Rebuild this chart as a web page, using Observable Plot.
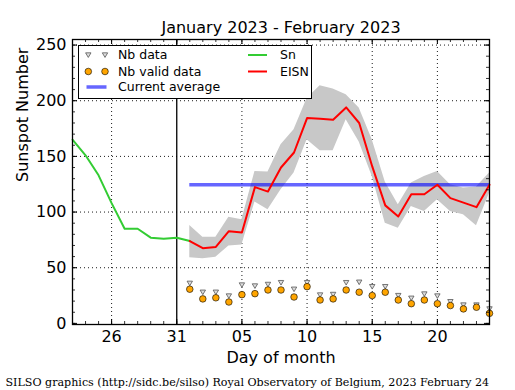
<!DOCTYPE html>
<html><head><meta charset="utf-8">
<script src="https://cdn.jsdelivr.net/npm/d3@7"></script>
<script src="https://cdn.jsdelivr.net/npm/@observablehq/plot@0.6"></script>
<style>body{margin:0;background:#fff} #chart svg{font-family:"DejaVu Sans";}</style>
</head><body><div id="chart"></div>
<script>
// ---- data ----
const snDates = ["2023-01-23","2023-01-24","2023-01-25","2023-01-26","2023-01-27","2023-01-28","2023-01-29","2023-01-30","2023-01-31","2023-02-01"];
const snValues = [165, 151, 133, 108, 85, 85, 77, 76, 77, 74];
const eisnDates = ["2023-02-01","2023-02-02","2023-02-03","2023-02-04","2023-02-05","2023-02-06","2023-02-07","2023-02-08","2023-02-09","2023-02-10","2023-02-11","2023-02-12","2023-02-13","2023-02-14","2023-02-15","2023-02-16","2023-02-17","2023-02-18","2023-02-19","2023-02-20","2023-02-21","2023-02-22","2023-02-23","2023-02-24"];
const eisnValues = [74, 67.5, 68.7, 82.8, 81.6, 122.4, 118.4, 140, 153.5, 184.4, 183.8, 183, 194, 180, 141, 106, 96, 116, 116, 124.5, 112.5, 108.5, 104.4, 124.5];
const eisnLow = [59, 58, 59.4, 69.6, 70.5, 109, 102, 120, 135, 165, 155, 155, 183, 163, 132, 90, 85.5, 105, 100.5, 111, 100.5, 97.5, 87.6, 117];
const eisnHigh = [88, 77.4, 77.4, 95.4, 93, 136.4, 136, 160.4, 174, 202, 213.5, 210.5, 205.4, 193.4, 165, 127, 106.5, 126, 132, 136.4, 124.5, 121.5, 122.4, 135];
const nbData = [36, 28, 28, 24.6, 34.5, 33.6, 35, 36.6, 30.7, 36.6, 25.5, 26, 36.6, 37, 33, 33, 25, 22.6, 26.4, 24.6, 19.5, 16.5, 16.5, 13];
const nbValid = [30.7, 22, 23, 19.2, 25.8, 26.7, 30, 30, 23.7, 33, 21, 22, 30, 28, 25, 28, 21, 17.7, 21, 17.7, 16, 13, 14.5, 9];
const currentAverage = 124.5;
const xTickDates = ["2023-01-26","2023-01-31","2023-02-05","2023-02-10","2023-02-15","2023-02-20"];
const yTickValues = [0, 50, 100, 150, 200, 250];
const xDomainDates = ["2023-01-23","2023-02-24"];
const cutoffDate = "2023-01-31";
const titleText = "January 2023 - February 2023";
const xLabel = "Day of month";
const yLabel = "Sunspot Number";
const footerText = "SILSO graphics (http://sidc.be/silso) Royal Observatory of Belgium, 2023 February 24";
const legendLabels = ["Nb data", "Nb valid data", "Current average", "Sn", "EISN"];

// ---- build ----
const parse = s => new Date(s + "T00:00:00Z");
const snRows = snDates.map((d, i) => ({date: parse(d), value: snValues[i]}));
const eisnRows = eisnDates.map((d, i) => ({date: parse(d), eisn: eisnValues[i], low: eisnLow[i], high: eisnHigh[i], nb: nbData[i], valid: nbValid[i]}));
const W = 515, H = 390, mL = 72, mR = 26, mT = 39, mB = 66;
const fw = W - mL - mR, fh = H - mT - mB;
const xDomain = xDomainDates.map(parse);
const majorX = xTickDates.map(parse);
const minorX = d3.utcDay.range(xDomain[0], d3.utcDay.offset(xDomain[1], 1));
const minorY = d3.range(0, 251, 10);
const gridX = majorX.filter(d => +d !== +parse(cutoffDate));
const gridY = yTickValues.filter(v => v > 0);

const TRI_R = 2.7;
const triDown = {
  draw(ctx, size) {
    const r = Math.sqrt(size / Math.PI);
    ctx.moveTo(-r, -r * 0.8);
    ctx.lineTo(r, -r * 0.8);
    ctx.lineTo(0, r * 0.9);
    ctx.closePath();
  }
};

const GREEN = "#33cc33", RED = "#ff0000", BLUE = "#0000ff", ORANGE = "#ffa500";

const chart = Plot.plot({
  width: W, height: H,
  marginLeft: mL, marginRight: mR, marginTop: mT, marginBottom: mB,
  style: {fontFamily: "DejaVu Sans", fontSize: "16px", background: "white", color: "black"},
  x: {type: "utc", domain: xDomain, ticks: majorX, tickFormat: "%d", tickSize: 0, tickPadding: 6, label: null},
  y: {domain: [-1, 255], ticks: yTickValues, tickSize: 0, tickPadding: 6, label: null},
  marks: [
    Plot.ruleX(gridX, {stroke: "black", strokeWidth: 0.9, strokeDasharray: "1,3"}),
    Plot.ruleY(gridY, {stroke: "black", strokeWidth: 0.9, strokeDasharray: "1,3"}),
    Plot.areaY(eisnRows, {x: "date", y1: "low", y2: "high", fill: "#c8c8c8", curve: "linear"}),
    Plot.ruleY([currentAverage], {x1: eisnRows[0].date, x2: eisnRows[eisnRows.length - 1].date, stroke: BLUE, strokeOpacity: 0.6, strokeWidth: 3.5}),
    Plot.ruleX([parse(cutoffDate)], {stroke: "black", strokeWidth: 1.3}),
    Plot.line(snRows, {x: "date", y: "value", stroke: GREEN, strokeWidth: 2}),
    Plot.line(eisnRows, {x: "date", y: "eisn", stroke: RED, strokeWidth: 2}),
    Plot.dot(eisnRows, {x: "date", y: "nb", symbol: triDown, r: TRI_R, stroke: "#555", fill: "#ddd", strokeWidth: 0.8}),
    Plot.dot(eisnRows, {x: "date", y: "valid", r: 3.3, fill: ORANGE, stroke: "black", strokeWidth: 0.6}),
    Plot.frame({stroke: "black", strokeWidth: 1.3}),
    // ticks (inward)
    Plot.tickX(minorX, {x: d => d, insetTop: fh - 3, stroke: "black", strokeWidth: 0.8}),
    Plot.tickX(minorX, {x: d => d, insetBottom: fh - 3, stroke: "black", strokeWidth: 0.8}),
    Plot.tickX(majorX, {x: d => d, insetTop: fh - 5, stroke: "black", strokeWidth: 1}),
    Plot.tickX(majorX, {x: d => d, insetBottom: fh - 5, stroke: "black", strokeWidth: 1}),
    Plot.tickY(minorY, {y: d => d, insetRight: fw - 3, stroke: "black", strokeWidth: 0.8}),
    Plot.tickY(minorY, {y: d => d, insetLeft: fw - 3, stroke: "black", strokeWidth: 0.8}),
    Plot.tickY(yTickValues, {y: d => d, insetRight: fw - 5, stroke: "black", strokeWidth: 1}),
    Plot.tickY(yTickValues, {y: d => d, insetLeft: fw - 5, stroke: "black", strokeWidth: 1}),
    // texts
    Plot.text([titleText], {text: d => d, frameAnchor: "top", dy: -12, fontSize: 16, lineAnchor: "middle"}),
    Plot.text([xLabel], {text: d => d, frameAnchor: "bottom", dy: 33, fontSize: 16, lineAnchor: "middle"}),
    Plot.text([yLabel], {text: d => d, frameAnchor: "left", dx: -50, rotate: -90, fontSize: 16, lineAnchor: "middle"}),
    Plot.text([footerText], {text: d => d, frameAnchor: "bottom-left", dx: -67, dy: 58, textAnchor: "start", lineAnchor: "middle", fontFamily: "DejaVu Serif", fontSize: 11.1})
  ]
});
document.getElementById("chart").appendChild(chart);

// ---- legend ----
const svg = d3.select(chart);
const g = svg.append("g").attr("font-family", "DejaVu Sans").attr("font-size", 12.5).attr("text-anchor", "start");
g.append("rect").attr("x", 78.5).attr("y", 45.5).attr("width", 233).attr("height", 53)
  .attr("fill", "white").attr("stroke", "black").attr("stroke-width", 1);
const rows = [55, 71.5, 87];
const triPath = d3.symbol().type(triDown).size(TRI_R * TRI_R * Math.PI)();
[88.3, 105].forEach(x => {
  g.append("path").attr("d", triPath).attr("transform", `translate(${x},${rows[0]})`).attr("fill", "#ddd").attr("stroke", "#555").attr("stroke-width", 0.8);
  g.append("circle").attr("cx", x).attr("cy", rows[1]).attr("r", 3.3).attr("fill", ORANGE).attr("stroke", "black").attr("stroke-width", 0.6);
});
g.append("line").attr("x1", 86.5).attr("x2", 106.5).attr("y1", rows[2]).attr("y2", rows[2]).attr("stroke", BLUE).attr("stroke-opacity", 0.6).attr("stroke-width", 3.5);
g.append("line").attr("x1", 248).attr("x2", 267).attr("y1", rows[0]).attr("y2", rows[0]).attr("stroke", GREEN).attr("stroke-width", 2);
g.append("line").attr("x1", 248).attr("x2", 267).attr("y1", rows[1]).attr("y2", rows[1]).attr("stroke", RED).attr("stroke-width", 2);
[[118, rows[0], legendLabels[0]], [118, rows[1], legendLabels[1]], [118, rows[2], legendLabels[2]], [280, rows[0], legendLabels[3]], [280, rows[1], legendLabels[4]]]
  .forEach(([x, y, t]) => g.append("text").attr("x", x).attr("y", y).attr("dy", "0.35em").text(t));
</script>
</body></html>
